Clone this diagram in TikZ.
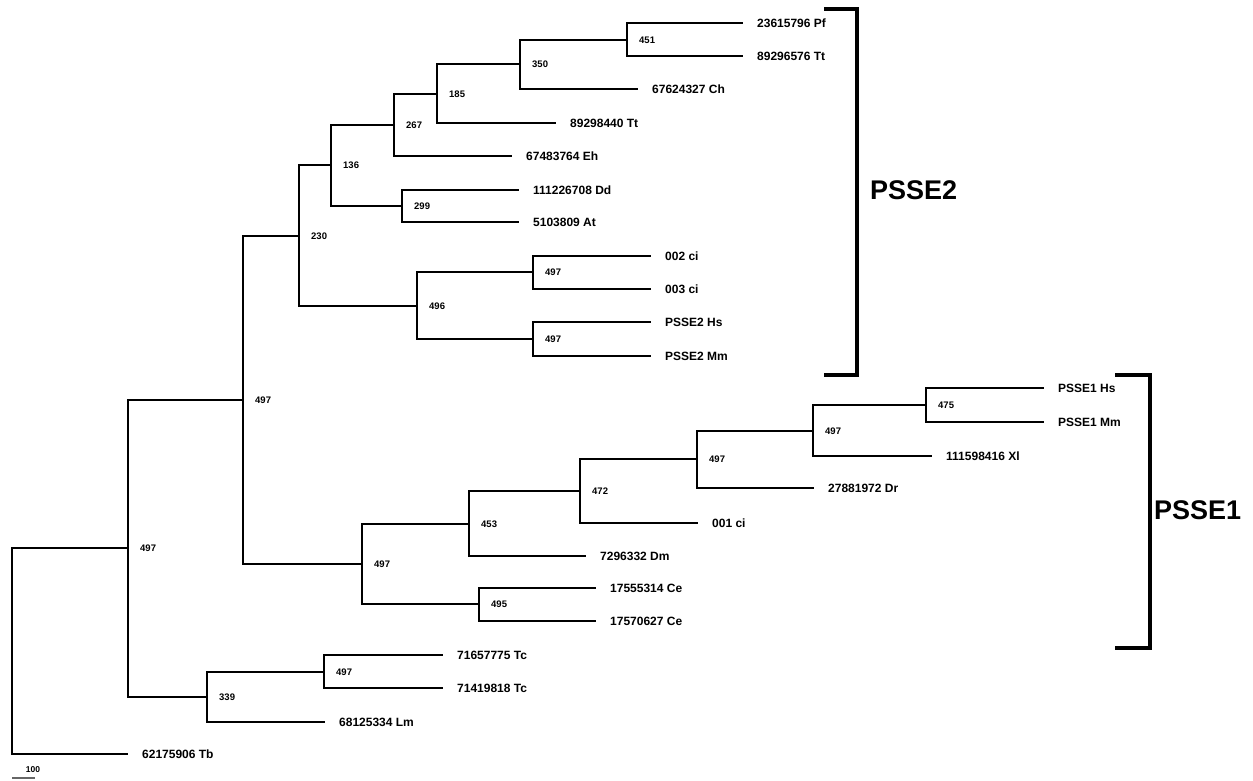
\documentclass[tikz,border=0pt]{standalone}
\usepackage{fontspec}
\setmainfont{Liberation Sans}
\begin{document}
\begin{tikzpicture}[x=1pt,y=-1pt,
  br/.style={line width=2pt,black},
  lf/.style={anchor=west,inner sep=0pt,xshift=14pt,font=\fontsize{12}{14}\selectfont\bfseries},
  bs/.style={anchor=west,inner sep=0pt,xshift=12pt,font=\fontsize{9.5}{11}\selectfont\bfseries},
  bracket/.style={line width=4pt,black,line cap=rect},
  clade/.style={anchor=west,inner sep=0pt,font=\fontsize{27}{30}\selectfont\bfseries}]
\useasboundingbox (0,0) rectangle (1253,780);
% internal nodes
\coordinate (R) at (12,651);
\coordinate (A) at (128,548);
\coordinate (B) at (243,400);
\coordinate (N230) at (299,236);
\coordinate (N136) at (331,165);
\coordinate (N267) at (394,125);
\coordinate (N185) at (437,94);
\coordinate (N350) at (520,64);
\coordinate (N451) at (627,40);
\coordinate (N299) at (402,206);
\coordinate (N496) at (417,306);
\coordinate (Nci) at (533,272);
\coordinate (Nps2) at (533,339);
\coordinate (N362) at (362,564);
\coordinate (N453) at (469,524);
\coordinate (N472) at (580,491);
\coordinate (N697) at (697,459);
\coordinate (N813) at (813,431);
\coordinate (N926) at (926,405);
\coordinate (N495) at (479,604);
\coordinate (C339) at (207,697);
\coordinate (N324) at (324,672);
% leaves
\coordinate (Pf) at (743,23);
\coordinate (TtA) at (743,56);
\coordinate (Ch) at (638,89);
\coordinate (TtB) at (556,123);
\coordinate (Eh) at (512,156);
\coordinate (Dd) at (519,190);
\coordinate (At) at (519,222);
\coordinate (ciB) at (651,256);
\coordinate (ciC) at (651,289);
\coordinate (HsB) at (651,322);
\coordinate (MmB) at (651,356);
\coordinate (HsA) at (1044,388);
\coordinate (MmA) at (1044,422);
\coordinate (Xl) at (932,456);
\coordinate (Dr) at (814,488);
\coordinate (ciA) at (698,523);
\coordinate (Dm) at (586,556);
\coordinate (CeA) at (596,588);
\coordinate (CeB) at (596,621);
\coordinate (TcA) at (443,655);
\coordinate (TcB) at (443,688);
\coordinate (Lm) at (325,722);
\coordinate (Tb) at (128,754);
% branches
\draw[br] (R) |- (A);   \draw[br] (R) |- (Tb);
\draw[br] (A) |- (B);   \draw[br] (A) |- (C339);
\draw[br] (B) |- (N230); \draw[br] (B) |- (N362);
\draw[br] (N230) |- (N136); \draw[br] (N230) |- (N496);
\draw[br] (N136) |- (N267); \draw[br] (N136) |- (N299);
\draw[br] (N267) |- (N185); \draw[br] (N267) |- (Eh);
\draw[br] (N185) |- (N350); \draw[br] (N185) |- (TtB);
\draw[br] (N350) |- (N451); \draw[br] (N350) |- (Ch);
\draw[br] (N451) |- (Pf); \draw[br] (N451) |- (TtA);
\draw[br] (N299) |- (Dd); \draw[br] (N299) |- (At);
\draw[br] (N496) |- (Nci); \draw[br] (N496) |- (Nps2);
\draw[br] (Nci) |- (ciB); \draw[br] (Nci) |- (ciC);
\draw[br] (Nps2) |- (HsB); \draw[br] (Nps2) |- (MmB);
\draw[br] (N362) |- (N453); \draw[br] (N362) |- (N495);
\draw[br] (N453) |- (N472); \draw[br] (N453) |- (Dm);
\draw[br] (N472) |- (N697); \draw[br] (N472) |- (ciA);
\draw[br] (N697) |- (N813); \draw[br] (N697) |- (Dr);
\draw[br] (N813) |- (N926); \draw[br] (N813) |- (Xl);
\draw[br] (N926) |- (HsA); \draw[br] (N926) |- (MmA);
\draw[br] (N495) |- (CeA); \draw[br] (N495) |- (CeB);
\draw[br] (C339) |- (N324); \draw[br] (C339) |- (Lm);
\draw[br] (N324) |- (TcA); \draw[br] (N324) |- (TcB);
% leaf labels
\node[lf] (lPf) at (Pf) {23615796 Pf};
\node[lf] (lTtA) at (TtA) {89296576 Tt};
\node[lf] (lCh) at (Ch) {67624327 Ch};
\node[lf] (lTtB) at (TtB) {89298440 Tt};
\node[lf] (lEh) at (Eh) {67483764 Eh};
\node[lf] (lDd) at (Dd) {111226708 Dd};
\node[lf] (lAt) at (At) {5103809 At};
\node[lf] (lciB) at (ciB) {002 ci};
\node[lf] (lciC) at (ciC) {003 ci};
\node[lf] (lHsB) at (HsB) {PSSE2 Hs};
\node[lf] (lMmB) at (MmB) {PSSE2 Mm};
\node[lf] (lHsA) at (HsA) {PSSE1 Hs};
\node[lf] (lMmA) at (MmA) {PSSE1 Mm};
\node[lf] (lXl) at (Xl) {111598416 Xl};
\node[lf] (lDr) at (Dr) {27881972 Dr};
\node[lf] (lciA) at (ciA) {001 ci};
\node[lf] (lDm) at (Dm) {7296332 Dm};
\node[lf] (lCeA) at (CeA) {17555314 Ce};
\node[lf] (lCeB) at (CeB) {17570627 Ce};
\node[lf] (lTcA) at (TcA) {71657775 Tc};
\node[lf] (lTcB) at (TcB) {71419818 Tc};
\node[lf] (lLm) at (Lm) {68125334 Lm};
\node[lf] (lTb) at (Tb) {62175906 Tb};
% bootstrap values
\node[bs] (bA) at (A) {497};
\node[bs] (bB) at (B) {497};
\node[bs] (b230) at (N230) {230};
\node[bs] (b136) at (N136) {136};
\node[bs] (b267) at (N267) {267};
\node[bs] (b185) at (N185) {185};
\node[bs] (b350) at (N350) {350};
\node[bs] (b451) at (N451) {451};
\node[bs] (b299) at (N299) {299};
\node[bs] (b496) at (N496) {496};
\node[bs] (bci) at (Nci) {497};
\node[bs] (bps2) at (Nps2) {497};
\node[bs] (b362) at (N362) {497};
\node[bs] (b453) at (N453) {453};
\node[bs] (b472) at (N472) {472};
\node[bs] (b697) at (N697) {497};
\node[bs] (b813) at (N813) {497};
\node[bs] (b926) at (N926) {475};
\node[bs] (b495) at (N495) {495};
\node[bs] (b339) at (C339) {339};
\node[bs] (b324) at (N324) {497};
% clade brackets
\draw[bracket] (826,9) -- (857,9) -- (857,375) -- (826,375);
\node[clade] (c2) at (870,190) {PSSE2};
\draw[bracket] (1117,375) -- (1150,375) -- (1150,648) -- (1117,648);
\node[clade] (c1) at (1154,510) {PSSE1};
% scale bar
\node[inner sep=0pt,font=\fontsize{8.5}{10}\selectfont\bfseries] (sc) at (33,770) {100};
\draw[line width=2pt,black!60] (12,778) -- (35,778);
\end{tikzpicture}
\end{document}
